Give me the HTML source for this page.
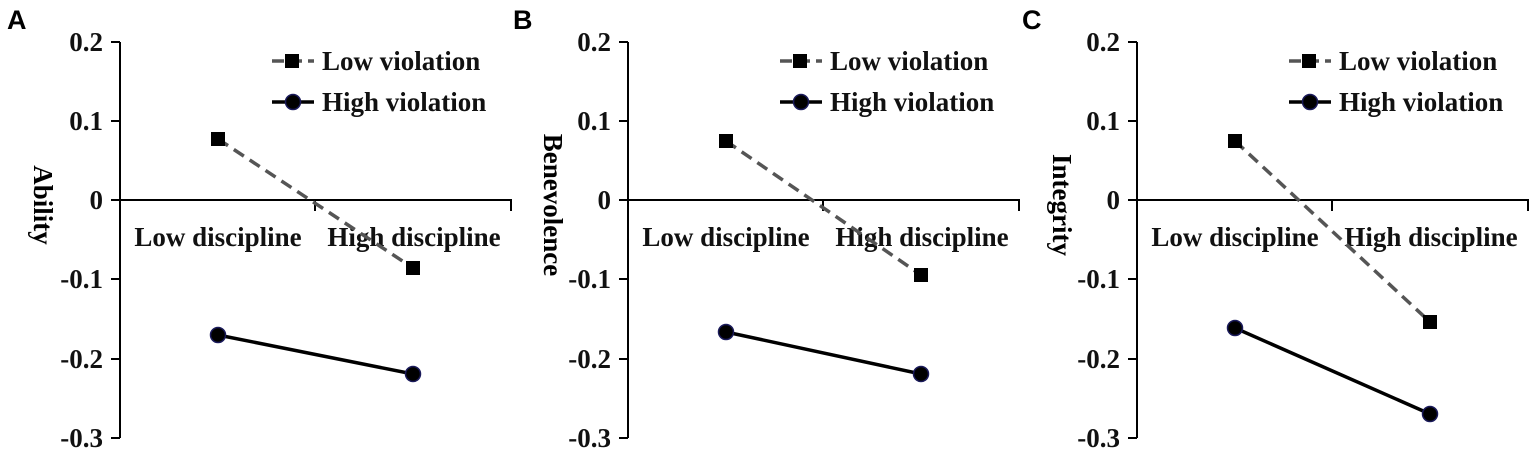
<!DOCTYPE html>
<html><head><style>
body{margin:0;background:#fff}
svg{display:block}
</style></head><body>
<svg width="1535" height="455" viewBox="0 0 1535 455" xmlns="http://www.w3.org/2000/svg" font-family="Liberation Serif, serif" font-weight="bold" font-size="27" fill="#000">
<defs>
<g id="ax" stroke="#000" stroke-width="2" fill="none">
<path d="M120,42V438M111,42H120M111,121H120M111,200H120M111,279H120M111,359H120M111,438H120M120,200H511V211M315,200V211"/>
</g>
<g id="lab" font-family="Liberation Serif, serif" font-weight="bold" font-size="27" fill="#111">
<text x="103" y="51" text-anchor="end">0.2</text>
<text x="103" y="130" text-anchor="end">0.1</text>
<text x="103" y="209" text-anchor="end">0</text>
<text x="103" y="288" text-anchor="end">-0.1</text>
<text x="103" y="368" text-anchor="end">-0.2</text>
<text x="103" y="447" text-anchor="end">-0.3</text>
<text x="218" y="246" text-anchor="middle">Low discipline</text>
<text x="414" y="246" text-anchor="middle">High discipline</text>
<line x1="272" y1="61" x2="314" y2="61" stroke="#555" stroke-width="3.5" stroke-dasharray="12,6"/>
<rect x="285" y="54" width="14" height="14" fill="#000"/>
<text x="322" y="70">Low violation</text>
<line x1="272" y1="102" x2="314" y2="102" stroke="#000" stroke-width="3.5"/>
<circle cx="293" cy="102" r="7.5" fill="#000" stroke="#1a1a5a" stroke-width="1.5"/>
<text x="322" y="111">High violation</text>
</g>
</defs>

<!-- A -->
<text x="7" y="29" font-family="Liberation Sans, sans-serif" font-size="27">A</text>
<use href="#ax"/><use href="#lab"/>
<text transform="translate(34,205) rotate(90)" text-anchor="middle">Ability</text>
<line x1="218" y1="139" x2="413" y2="268" stroke="#555" stroke-width="3.5" stroke-dasharray="12,7"/>
<rect x="211" y="132" width="14" height="14"/><rect x="406" y="261" width="14" height="14"/>
<line x1="218" y1="335" x2="413" y2="374" stroke="#000" stroke-width="3.5"/>
<circle cx="218" cy="335" r="7.5" stroke="#1a1a5a" stroke-width="1.5"/><circle cx="413" cy="374" r="7.5" stroke="#1a1a5a" stroke-width="1.5"/>

<!-- B -->
<g transform="translate(508,0)">
<text x="5" y="29" font-family="Liberation Sans, sans-serif" font-size="27">B</text>
<use href="#ax"/><use href="#lab"/>
<text transform="translate(36,205) rotate(90)" text-anchor="middle">Benevolence</text>
<line x1="218" y1="141" x2="413" y2="275" stroke="#555" stroke-width="3.5" stroke-dasharray="12,7"/>
<rect x="211" y="134" width="14" height="14"/><rect x="406" y="268" width="14" height="14"/>
<line x1="218" y1="332" x2="413" y2="374" stroke="#000" stroke-width="3.5"/>
<circle cx="218" cy="332" r="7.5" stroke="#1a1a5a" stroke-width="1.5"/><circle cx="413" cy="374" r="7.5" stroke="#1a1a5a" stroke-width="1.5"/>
</g>

<!-- C -->
<g transform="translate(1017,0)">
<text x="5" y="29" font-family="Liberation Sans, sans-serif" font-size="27">C</text>
<use href="#ax"/><use href="#lab"/>
<text transform="translate(36,205) rotate(90)" text-anchor="middle">Integrity</text>
<line x1="218" y1="141" x2="413" y2="322" stroke="#555" stroke-width="3.5" stroke-dasharray="12,7"/>
<rect x="211" y="134" width="14" height="14"/><rect x="406" y="315" width="14" height="14"/>
<line x1="218" y1="328" x2="413" y2="414" stroke="#000" stroke-width="3.5"/>
<circle cx="218" cy="328" r="7.5" stroke="#1a1a5a" stroke-width="1.5"/><circle cx="413" cy="414" r="7.5" stroke="#1a1a5a" stroke-width="1.5"/>
</g>
</svg>
</body></html>
